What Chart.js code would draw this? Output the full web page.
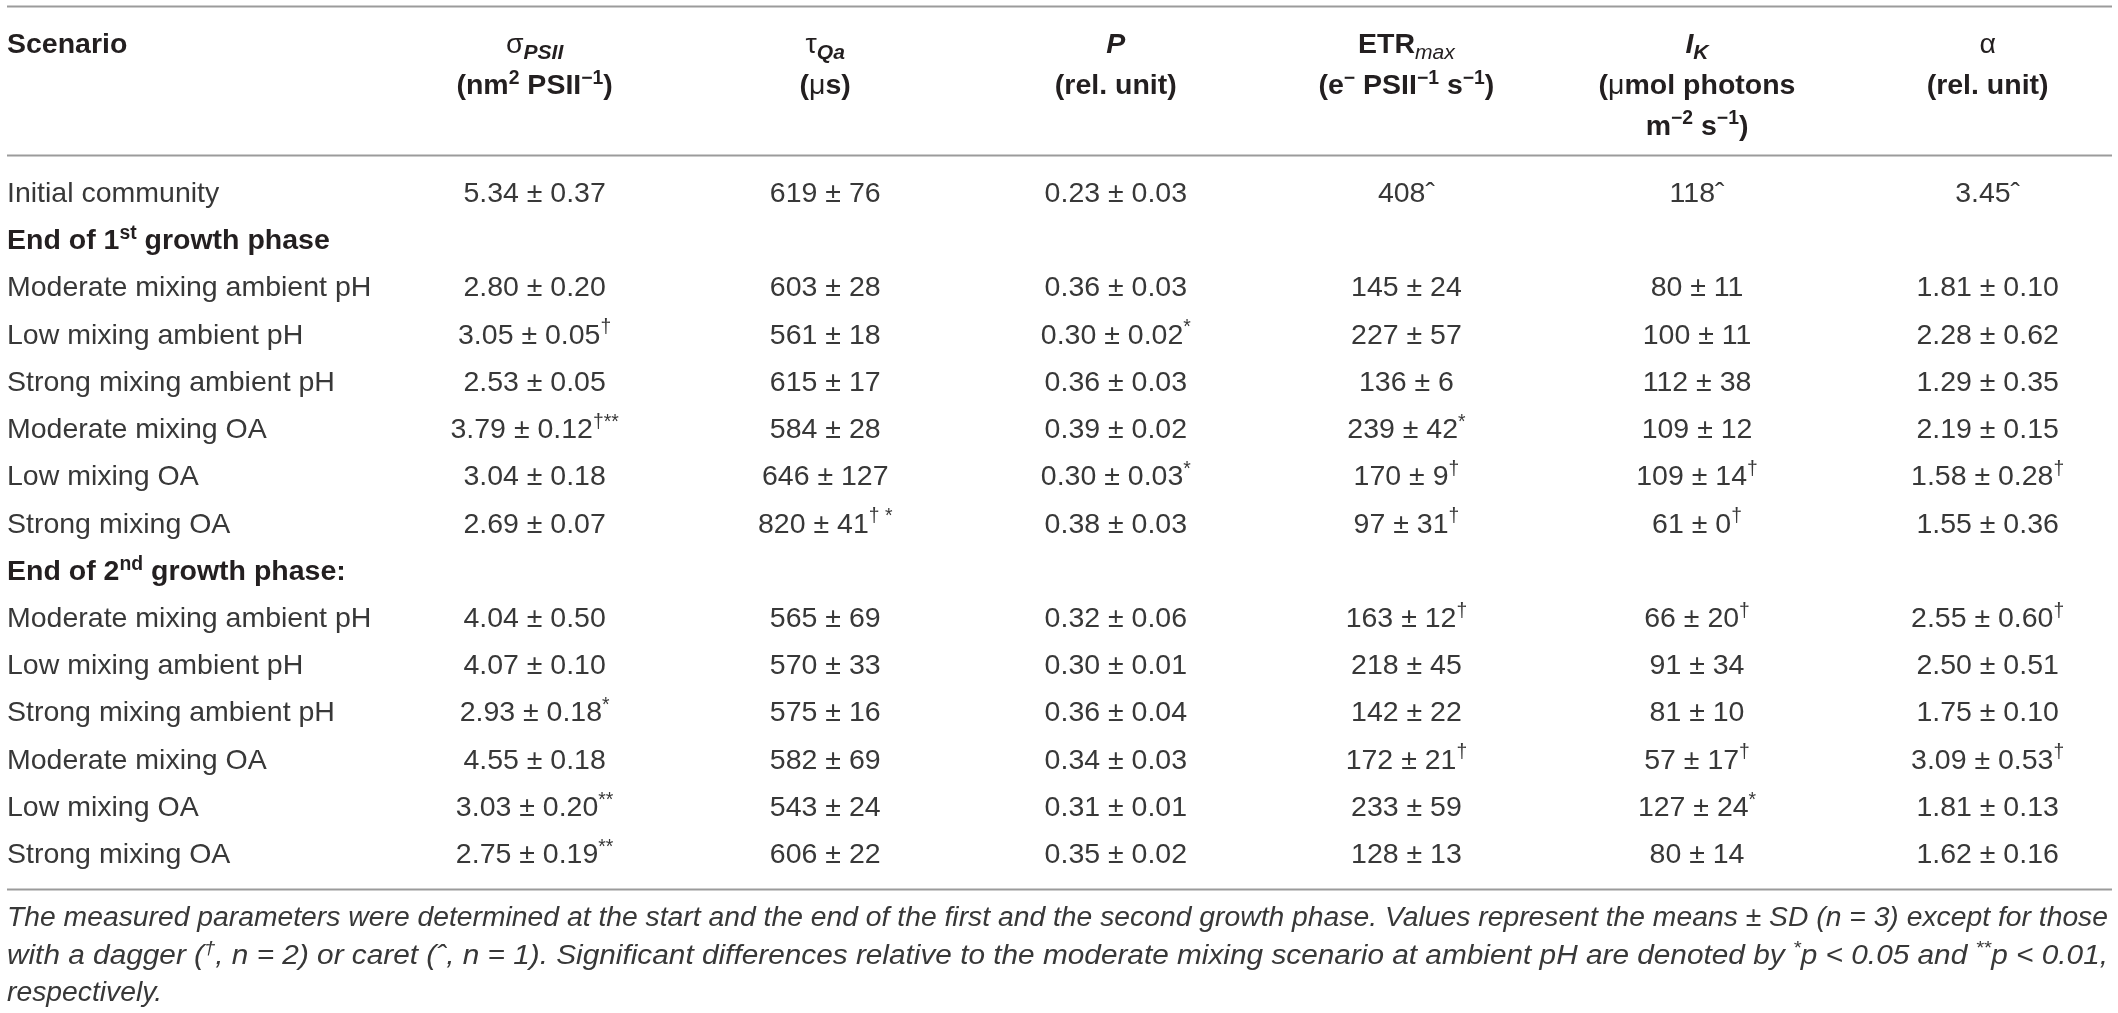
<!DOCTYPE html>
<html>
<head>
<meta charset="utf-8">
<script src="https://cdn.jsdelivr.net/npm/chart.js@4.4.1/dist/chart.umd.min.js"></script>
<style>
  html, body { margin: 0; padding: 0; background: #ffffff; }
  #wrap { width: 2118px; height: 1013px; position: relative; }
</style>
</head>
<body>
<div id="wrap"><canvas id="chart"></canvas></div>
<script>
// markup: {flags:text}  u = superscript, d = subscript, i = italic, r = regular weight
const scenarios = [
    'Initial community',
    'End of 1{u:st} growth phase',
    'Moderate mixing ambient pH',
    'Low mixing ambient pH',
    'Strong mixing ambient pH',
    'Moderate mixing OA',
    'Low mixing OA',
    'Strong mixing OA',
    'End of 2{u:nd} growth phase:',
    'Moderate mixing ambient pH',
    'Low mixing ambient pH',
    'Strong mixing ambient pH',
    'Moderate mixing OA',
    'Low mixing OA',
    'Strong mixing OA'
];
const groupRows = [1, 8];

const sigmaPSII = ['5.34 ± 0.37', null, '2.80 ± 0.20', '3.05 ± 0.05{u:†}', '2.53 ± 0.05', '3.79 ± 0.12{u:†**}', '3.04 ± 0.18', '2.69 ± 0.07',
    null, '4.04 ± 0.50', '4.07 ± 0.10', '2.93 ± 0.18{u:*}', '4.55 ± 0.18', '3.03 ± 0.20{u:**}', '2.75 ± 0.19{u:**}'];
const tauQa = ['619 ± 76', null, '603 ± 28', '561 ± 18', '615 ± 17', '584 ± 28', '646 ± 127', '820 ± 41{u:† *}',
    null, '565 ± 69', '570 ± 33', '575 ± 16', '582 ± 69', '543 ± 24', '606 ± 22'];
const pValues = ['0.23 ± 0.03', null, '0.36 ± 0.03', '0.30 ± 0.02{u:*}', '0.36 ± 0.03', '0.39 ± 0.02', '0.30 ± 0.03{u:*}', '0.38 ± 0.03',
    null, '0.32 ± 0.06', '0.30 ± 0.01', '0.36 ± 0.04', '0.34 ± 0.03', '0.31 ± 0.01', '0.35 ± 0.02'];
const etrMax = ['408ˆ', null, '145 ± 24', '227 ± 57', '136 ± 6', '239 ± 42{u:*}', '170 ± 9{u:†}', '97 ± 31{u:†}',
    null, '163 ± 12{u:†}', '218 ± 45', '142 ± 22', '172 ± 21{u:†}', '233 ± 59', '128 ± 13'];
const iK = ['118ˆ', null, '80 ± 11', '100 ± 11', '112 ± 38', '109 ± 12', '109 ± 14{u:†}', '61 ± 0{u:†}',
    null, '66 ± 20{u:†}', '91 ± 34', '81 ± 10', '57 ± 17{u:†}', '127 ± 24{u:*}', '80 ± 14'];
const alphaValues = ['3.45ˆ', null, '1.81 ± 0.10', '2.28 ± 0.62', '1.29 ± 0.35', '2.19 ± 0.15', '1.58 ± 0.28{u:†}', '1.55 ± 0.36',
    null, '2.55 ± 0.60{u:†}', '2.50 ± 0.51', '1.75 ± 0.10', '3.09 ± 0.53{u:†}', '1.81 ± 0.13', '1.62 ± 0.16'];

// header lines, one entry per column (Scenario first)
const headerLine1 = ['Scenario', '{r:σ}{di:PSII}', '{r:τ}{di:Qa}', '{i:P}', 'ETR{dir:max}', '{i:I}{di:K}', '{r:α}'];
const headerLine2 = ['', '(nm{u:2} PSII{u:−1})', '({r:μ}s)', '(rel. unit)', '(e{u:−} PSII{u:−1} s{u:−1})', '({r:μ}mol photons', '(rel. unit)'];
const headerLine3 = ['', '', '', '', '', 'm{u:−2} s{u:−1})', ''];

const footnote = [
    'The measured parameters were determined at the start and the end of the first and the second growth phase. Values represent the means ± SD (n = 3) except for those',
    'with a dagger ({u:†}, n = 2) or caret (ˆ, n = 1). Significant differences relative to the moderate mixing scenario at ambient pH are denoted by {u:*}p < 0.05 and {u:**}p < 0.01,',
    'respectively.'
];

const columns = [scenarios, sigmaPSII, tauQa, pValues, etrMax, iK, alphaValues];

// layout in scale units
const X_MIN = -0.8156, X_MAX = 6.428;
const Y_MIN = -3.94, Y_MAX = 17.26;
const headerRowsY = [-3.15, -2.28, -1.43];
const ruleRowsY = [Y_MIN, -0.784, 14.76];
const footRowsY = [15.36, 16.16, 16.95];

const FAMILY = '"Liberation Sans", Arial, Helvetica, sans-serif';

function parseRich(str) {
    const segs = [];
    const re = /\{([a-z]*):([^}]*)\}/g;
    let last = 0, m;
    while ((m = re.exec(str))) {
        if (m.index > last) segs.push({ t: str.slice(last, m.index), f: '' });
        segs.push({ t: m[2], f: m[1] });
        last = re.lastIndex;
    }
    if (last < str.length) segs.push({ t: str.slice(last), f: '' });
    return segs;
}

function segStyle(seg, base) {
    const up = seg.f.includes('u'), down = seg.f.includes('d');
    const size = up ? base.size * 0.68 : down ? base.size * 0.74 : base.size;
    const italic = base.italic || seg.f.includes('i');
    const bold = base.bold && !seg.f.includes('r');
    return {
        font: (italic ? 'italic ' : '') + (bold ? 'bold ' : '') + size + 'px ' + FAMILY,
        dy: up ? -base.size * 0.36 : down ? base.size * 0.2 : 0
    };
}

function richWidth(ctx, str, base) {
    let w = 0;
    parseRich(str).forEach(seg => {
        ctx.font = segStyle(seg, base).font;
        w += ctx.measureText(seg.t).width;
    });
    return w;
}

function drawRich(ctx, str, x, baseline, align, base, sx) {
    sx = sx || 1;
    const w = richWidth(ctx, str, base) * sx;
    const start = align === 'center' ? x - w / 2 : x;
    ctx.save();
    ctx.translate(start, baseline);
    ctx.scale(sx, 1);
    ctx.fillStyle = base.color;
    ctx.textBaseline = 'alphabetic';
    ctx.textAlign = 'left';
    let cx = 0;
    parseRich(str).forEach(seg => {
        const st = segStyle(seg, base);
        ctx.font = st.font;
        ctx.fillText(seg.t, cx, st.dy);
        cx += ctx.measureText(seg.t).width;
    });
    ctx.restore();
}

const tablePlugin = {
    id: 'tableText',
    afterDatasetsDraw(chart) {
        const ctx = chart.ctx;
        const xs = chart.scales.x, ys = chart.scales.y;
        const area = chart.chartArea;
        const body = { size: 28.5, bold: false, italic: false, color: '#383838' };
        const bold = { size: 28.5, bold: true, italic: false, color: '#231f20' };

        // rules
        ctx.save();
        ctx.strokeStyle = '#9b9b9b';
        ctx.lineWidth = 2;
        ruleRowsY.forEach(v => {
            const y = Math.round(ys.getPixelForValue(v)) + 0.5;
            ctx.beginPath();
            ctx.moveTo(area.left, y);
            ctx.lineTo(area.right, y);
            ctx.stroke();
        });
        ctx.restore();

        // header
        [headerLine1, headerLine2, headerLine3].forEach((line, li) => {
            const base = ys.getPixelForValue(headerRowsY[li]) + 10;
            line.forEach((txt, c) => {
                if (!txt) return;
                if (c === 0) drawRich(ctx, txt, xs.getPixelForValue(X_MIN), base, 'left', bold);
                else drawRich(ctx, txt, xs.getPixelForValue(c), base, 'center', bold);
            });
        });

        // cells, positioned by the dataset points
        chart.data.datasets.forEach((ds, c) => {
            const meta = chart.getDatasetMeta(c);
            meta.data.forEach((pt, r) => {
                const txt = columns[c][r];
                if (!txt) return;
                const style = groupRows.includes(r) ? bold : body;
                drawRich(ctx, txt, pt.x, pt.y + 10, c === 0 ? 'left' : 'center', style);
            });
        });

        // footnote, italic, squeezed to the table width
        const foot = { size: 27, bold: false, italic: true, color: '#383838' };
        const target = area.right - area.left - 4;
        const sx1 = target / richWidth(ctx, footnote[0], foot);
        const sx2 = target / richWidth(ctx, footnote[1], foot);
        const scales = [sx1, sx2, sx1];
        footnote.forEach((txt, i) => {
            drawRich(ctx, txt, area.left, ys.getPixelForValue(footRowsY[i]) + 9, 'left', foot, scales[i]);
        });
    }
};

const datasets = columns.map((col, c) => ({
    label: c === 0 ? 'Scenario' : headerLine1[c],
    data: col.map((v, r) => ({ x: c === 0 ? X_MIN : c, y: r })),
    pointRadius: 0,
    pointHoverRadius: 0,
    showLine: false
}));

const config = {
    type: 'scatter',
    data: { datasets: datasets },
    options: {
        responsive: true,
        maintainAspectRatio: false,
        animation: false,
        events: [],
        layout: { padding: { left: 7, right: 6, top: 6, bottom: 6 } },
        plugins: { legend: { display: false }, tooltip: { enabled: false } },
        scales: {
            x: { type: 'linear', min: X_MIN, max: X_MAX, display: false },
            y: { type: 'linear', min: Y_MIN, max: Y_MAX, reverse: true, display: false }
        }
    },
    plugins: [tablePlugin]
};

const ctx = document.getElementById('chart').getContext('2d');
new Chart(ctx, config);
</script>
</body>
</html>
